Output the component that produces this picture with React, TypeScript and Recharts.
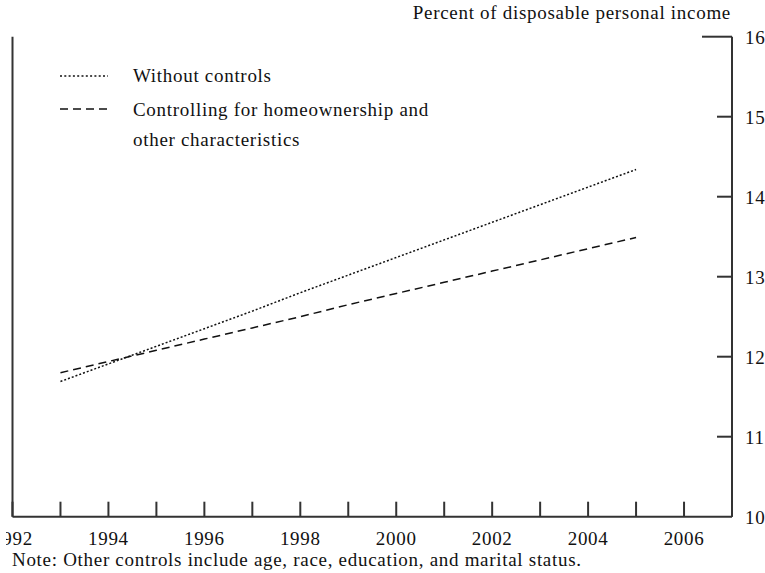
import React from "react";
import { LineChart, Line, XAxis, YAxis } from "recharts";

// values, one per year
const years = [1993, 1994, 1995, 1996, 1997, 1998, 1999, 2000, 2001, 2002, 2003, 2004, 2005];
const withoutControls = [11.69, 11.91, 12.13, 12.35, 12.57, 12.8, 13.02, 13.24, 13.46, 13.68, 13.9, 14.12, 14.34];
const withControls = [11.8, 11.94, 12.08, 12.22, 12.36, 12.5, 12.65, 12.79, 12.93, 13.07, 13.21, 13.35, 13.49];

const xTicks = [1992, 1993, 1994, 1995, 1996, 1997, 1998, 1999, 2000, 2001, 2002, 2003, 2004, 2005, 2006, 2007];
const yTicks = [10, 11, 12, 13, 14, 15, 16];

const data = years.map((year, i) => ({ year, without: withoutControls[i], controls: withControls[i] }));

const FONT = "'Liberation Serif', 'Times New Roman', serif";
const AXIS = "#333";
const FS = 19;
const LS = 0.7;

const XTick = (props: any) => {
  const { x, y, payload } = props;
  const v = payload.value;
  return (
    <g>
      <line x1={x} x2={x} y1={y} y2={y - 15} stroke={AXIS} strokeWidth={2} />
      {v % 2 === 0 && (
        <text x={x} y={y + 28} textAnchor="middle" fontSize={FS} letterSpacing={LS} fontFamily={FONT} fill="#111">
          {v}
        </text>
      )}
    </g>
  );
};

const RightTick = (props: any) => {
  const { x, y, payload } = props;
  const len = payload.value === 16 ? 30 : 15;
  return (
    <g>
      {payload.value !== 10 && <line x1={x} x2={x - len} y1={y} y2={y} stroke={AXIS} strokeWidth={2} />}
      <text x={x + 13} y={y + 7} textAnchor="start" fontSize={FS} letterSpacing={LS} fontFamily={FONT} fill="#111">
        {payload.value}
      </text>
    </g>
  );
};

const LeftTick = (props: any) => {
  const { x, y, payload } = props;
  if (payload.value === 10) return <g />;
  const len = payload.value === 16 ? 30 : 15;
  return <line x1={x} x2={x + len} y1={y} y2={y} stroke={AXIS} strokeWidth={2} />;
};

const textStyle: React.CSSProperties = {
  position: "absolute",
  fontFamily: FONT,
  fontSize: FS,
  letterSpacing: LS,
  color: "#111",
  whiteSpace: "nowrap",
  lineHeight: 1,
};

export default function App() {
  return (
    <div style={{ position: "absolute", left: 0, top: 0, width: 765, height: 573, background: "#fff" }}>
      <div style={{ position: "absolute", left: 6, top: 0 }}>
        <LineChart width={759} height={573} data={data} margin={{ top: 36.7, right: 32, bottom: 55.3, left: 5.5 }}>
          <XAxis
            dataKey="year"
            type="number"
            domain={[1992, 2007]}
            ticks={xTicks}
            interval={0}
            tickSize={0}
            tickMargin={0}
            tickLine={false}
            tick={<XTick />}
            axisLine={{ stroke: AXIS, strokeWidth: 2 }}
            height={1}
          />
          <YAxis
            yAxisId="left"
            orientation="left"
            domain={[10, 16]}
            ticks={yTicks}
            interval={0}
            width={1}
            tickSize={0}
            tickMargin={0}
            tickLine={false}
            tick={<LeftTick />}
            axisLine={{ stroke: AXIS, strokeWidth: 2 }}
          />
          <YAxis
            yAxisId="right"
            orientation="right"
            domain={[10, 16]}
            ticks={yTicks}
            interval={0}
            width={1}
            tickSize={0}
            tickMargin={0}
            tickLine={false}
            tick={<RightTick />}
            axisLine={{ stroke: AXIS, strokeWidth: 2 }}
          />
          <Line
            yAxisId="right"
            type="linear"
            dataKey="without"
            stroke="#111"
            strokeWidth={1.5}
            strokeDasharray="2 2"
            dot={false}
            isAnimationActive={false}
          />
          <Line
            yAxisId="right"
            type="linear"
            dataKey="controls"
            stroke="#111"
            strokeWidth={1.5}
            strokeDasharray="8 5"
            dot={false}
            isAnimationActive={false}
          />
        </LineChart>
      </div>

      <div style={{ ...textStyle, right: 34, top: 2.6 }}>Percent of disposable personal income</div>

      <svg style={{ position: "absolute", left: 58, top: 70 }} width={52} height={50}>
        <line x1={2} x2={50} y1={6} y2={6} stroke="#111" strokeWidth={1.5} strokeDasharray="2 2.3" />
        <line x1={2} x2={50} y1={39} y2={39} stroke="#111" strokeWidth={1.5} strokeDasharray="8 5" />
      </svg>
      <div style={{ ...textStyle, left: 133, top: 66 }}>Without controls</div>
      <div style={{ ...textStyle, left: 133, top: 100 }}>Controlling for homeownership and</div>
      <div style={{ ...textStyle, left: 133, top: 130 }}>other characteristics</div>

      <div style={{ ...textStyle, left: 12, top: 550 }}>
        Note: Other controls include age, race, education, and marital status.
      </div>
    </div>
  );
}
